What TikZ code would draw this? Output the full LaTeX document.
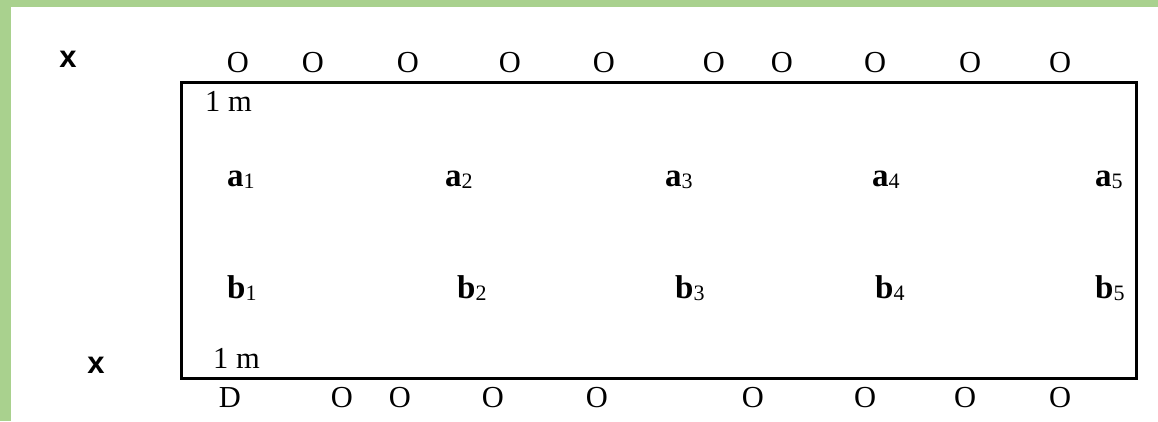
\documentclass[tikz,border=0pt]{standalone}
\usepackage{fontspec}
\setmainfont{Liberation Serif}
\newfontfamily\xsans{Liberation Sans}
\definecolor{bandgreen}{HTML}{A9D18E}
\newcommand{\sublab}[2]{\textbf{#1}\raisebox{-2pt}{\fontsize{22}{22}\selectfont #2}}
\begin{document}
\begin{tikzpicture}[x=1pt,y=-1pt,
  txt/.style={inner sep=0pt,anchor=base,font=\fontsize{30.5}{34}\selectfont},
  ptlab/.style={inner sep=0pt,anchor=base west,font=\fontsize{33}{36}\selectfont},
  xlab/.style={inner sep=0pt,anchor=base,font=\xsans\bfseries\fontsize{31}{34}\selectfont},
  field/.style={draw=black,line width=2.6pt}]
\useasboundingbox (0,0) rectangle (1158,421);
\fill[bandgreen] (0,0) rectangle (1158,7);
\fill[bandgreen] (0,0) rectangle (11,421);
\node[field,minimum width=955pt,minimum height=296pt,anchor=north west,inner sep=0pt] (F) at (180,81) {};
% x markers
\node[xlab] (x1) at (68,67) {x};
\node[xlab] (x2) at (96,373) {x};
% top row
\foreach \i/\px in {1/238,2/313,3/408,4/510,5/604,6/714,7/782,8/875,9/970,10/1060}
  \node[txt] (t\i) at (\px,72) {O};
% bottom row
\node[txt] (d0) at (230,407) {D};
\foreach \i/\px in {1/342,2/400,3/493,4/597,5/753,6/865,7/965,8/1060}
  \node[txt] (u\i) at (\px,407) {O};
% 1 m labels
\node[txt,anchor=base west] (m1) at (205,111) {1 m};
\node[txt,anchor=base west] (m2) at (213,368) {1 m};
% a row
\node[ptlab] (a1) at (227,186) {\sublab{a}{1}};
\node[ptlab] (a2) at (445,186) {\sublab{a}{2}};
\node[ptlab] (a3) at (665,186) {\sublab{a}{3}};
\node[ptlab] (a4) at (872,186) {\sublab{a}{4}};
\node[ptlab] (a5) at (1095,186) {\sublab{a}{5}};
% b row
\node[ptlab] (b1) at (227,298) {\sublab{b}{1}};
\node[ptlab] (b2) at (457,298) {\sublab{b}{2}};
\node[ptlab] (b3) at (675,298) {\sublab{b}{3}};
\node[ptlab] (b4) at (875,298) {\sublab{b}{4}};
\node[ptlab] (b5) at (1095,298) {\sublab{b}{5}};
\end{tikzpicture}
\end{document}
